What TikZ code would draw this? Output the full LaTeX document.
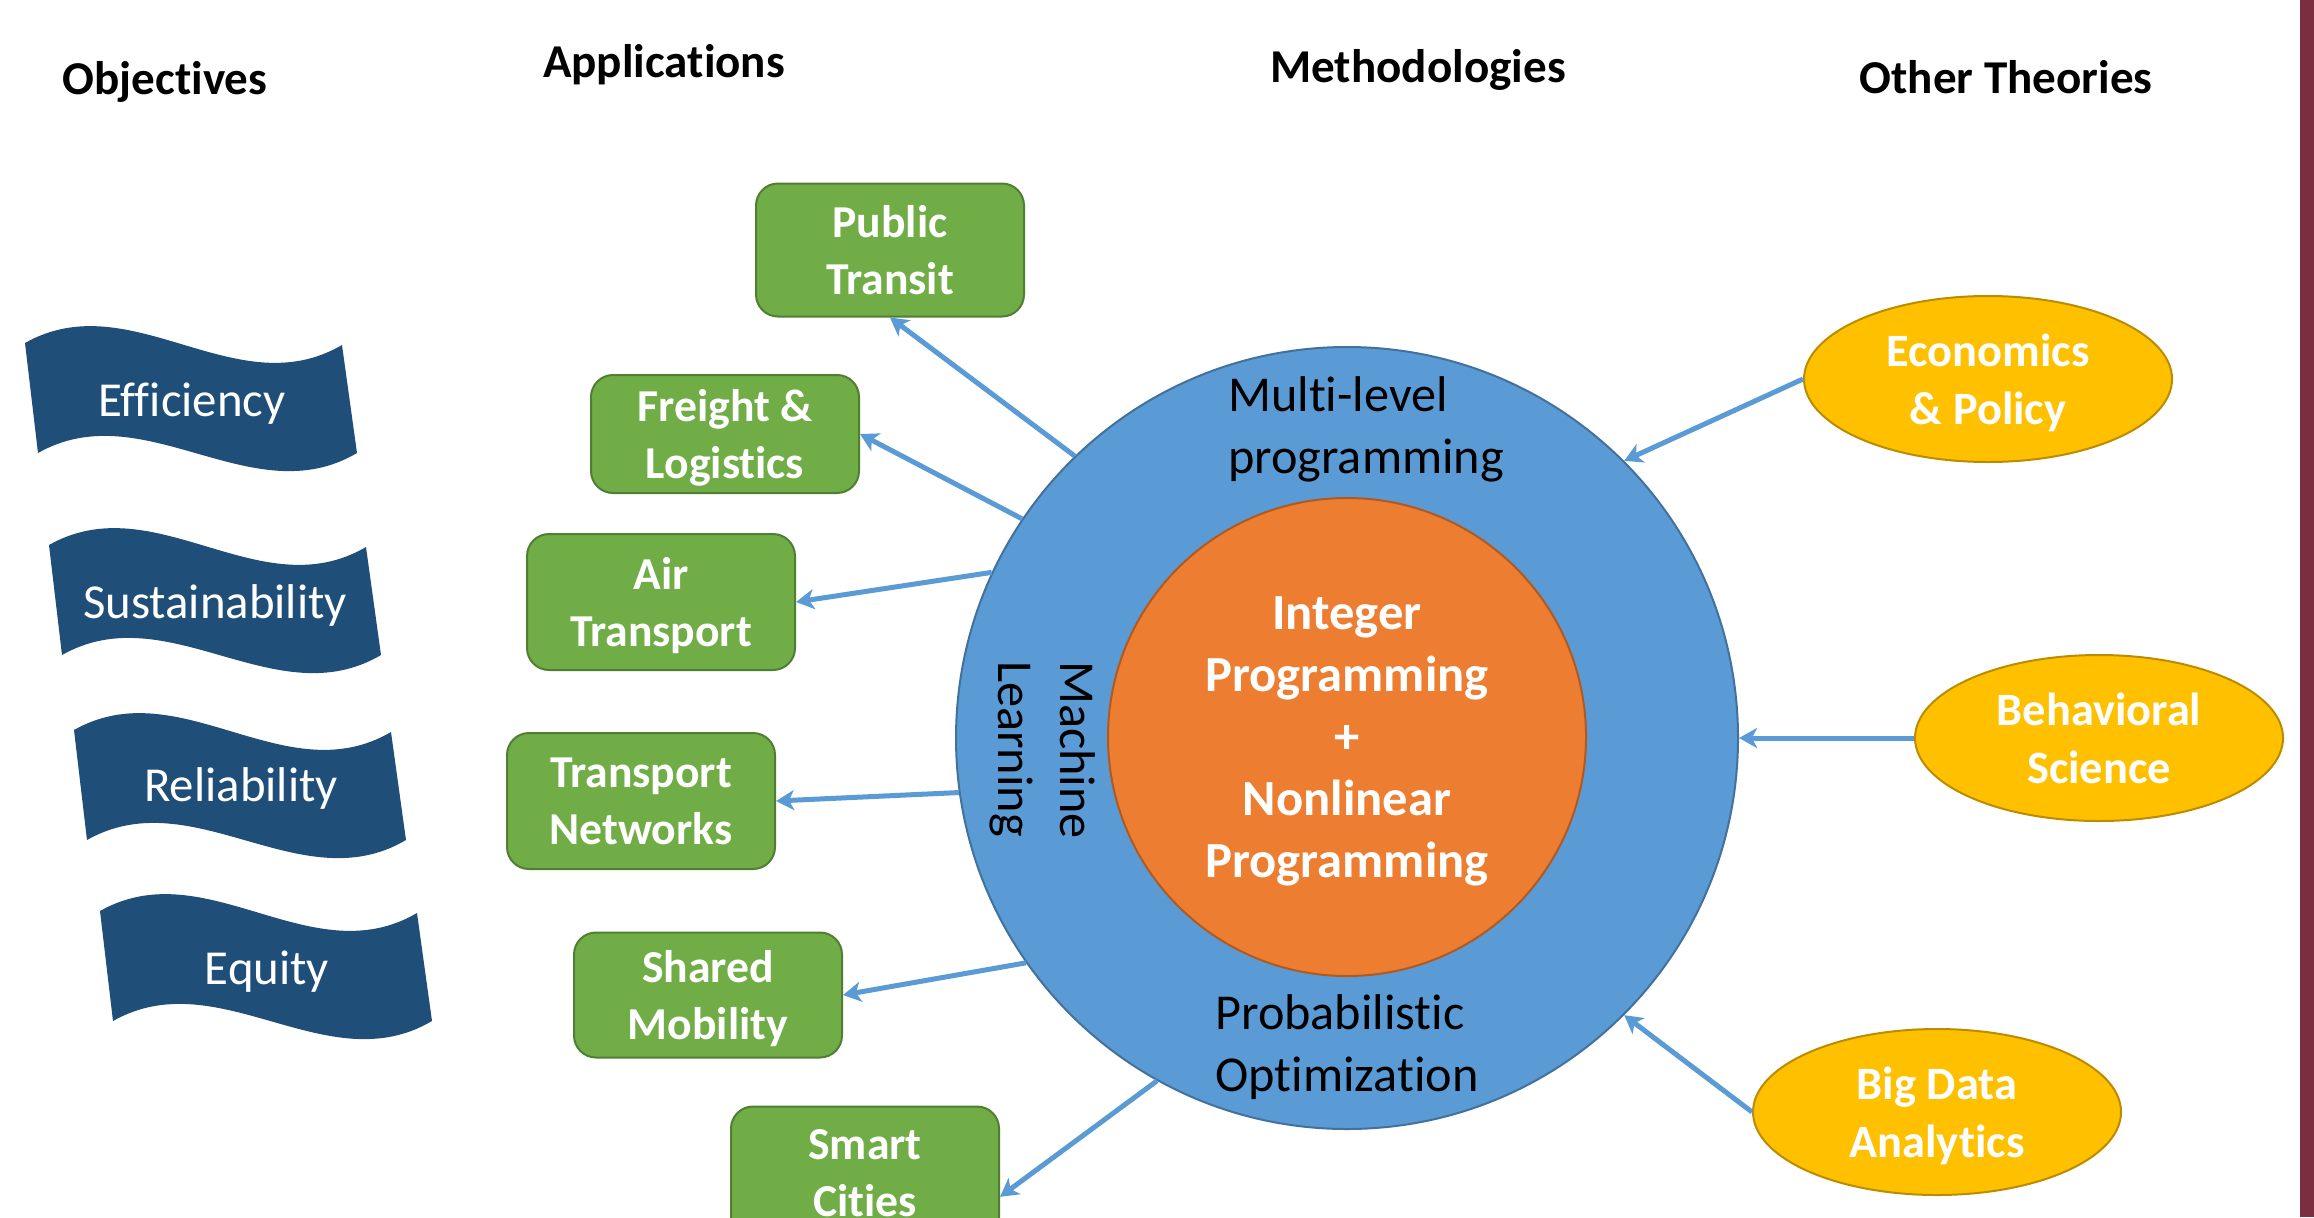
\documentclass[tikz,border=0pt]{standalone}
\usepackage{fontspec}
\setmainfont{Carlito}[Ligatures=NoCommon]
\usepackage{tikz}
\usetikzlibrary{arrows.meta,shapes.geometric}
\definecolor{appgreen}{HTML}{70AD47}
\definecolor{appedge}{HTML}{507E32}
\definecolor{ringblue}{HTML}{5B9BD5}
\definecolor{ringedge}{HTML}{41719C}
\definecolor{coreorange}{HTML}{ED7D31}
\definecolor{coreedge}{HTML}{AE5A21}
\definecolor{theorygold}{HTML}{FFC000}
\definecolor{theoryedge}{HTML}{BC8C00}
\definecolor{goalnavy}{HTML}{1F4E79}
\definecolor{barmaroon}{HTML}{7A2E40}

\begin{document}
\begin{tikzpicture}[x=0.1mm, y=-0.1mm,
  head/.style={font=\fontsize{13.4}{16}\selectfont\bfseries, text depth=0pt},
  app/.style={draw=appedge, line width=0.2mm, fill=appgreen, rounded corners=2.2mm, text=white, align=center, font=\fontsize{13}{16.4}\selectfont\bfseries, text depth=0pt, minimum width=26.8mm, minimum height=13.3mm, inner sep=0pt},
  theory/.style={ellipse, draw=theoryedge, line width=0.2mm, fill=theorygold, text=white, align=center, font=\fontsize{13.2}{16.4}\selectfont\bfseries, text depth=0pt, minimum width=36.8mm, minimum height=16.6mm, inner sep=0pt},
  goal/.style={text=white, font=\fontsize{13.9}{17}\selectfont, text depth=0pt},
  wave/.style={fill=goalnavy},
  meth/.style={align=left, font=\fontsize{14.3}{17.6}\selectfont, inner sep=0pt},
  link/.style={-{Stealth[length=1.8mm, width=2mm, inset=0.5mm]}, draw=ringblue, line width=0.5mm}
]
\useasboundingbox (0,0) rectangle (2314,1217);
\fill[white] (0,0) rectangle (2314,1217);
\fill[barmaroon] (2300,0) rectangle (2314,1217);

\node[head] (hobj)  at (165,78)   {Objectives};
\node[head] (happ)  at (664,61)   {Applications};
\node[head] (hmeth) at (1418,66)  {Methodologies};
\node[head] (hoth)  at (2006,77)  {Other Theories};

\fill[wave, shift={(25,343)}]  (0,0) .. controls (106,-60) and (211,64) .. (317,2) -- (332,110) .. controls (227,172) and (119,50) .. (13,110) -- cycle;
\fill[wave, shift={(49,545)}]  (0,0) .. controls (106,-60) and (211,64) .. (317,2) -- (332,110) .. controls (227,172) and (119,50) .. (13,110) -- cycle;
\fill[wave, shift={(74,730)}]  (0,0) .. controls (106,-60) and (211,64) .. (317,2) -- (332,110) .. controls (227,172) and (119,50) .. (13,110) -- cycle;
\fill[wave, shift={(100,911)}] (0,0) .. controls (106,-60) and (211,64) .. (317,2) -- (332,110) .. controls (227,172) and (119,50) .. (13,110) -- cycle;
\node[goal] (eff) at (192,400) {Efficiency};
\node[goal] (sus) at (215,602) {Sustainability};
\node[goal] (rel) at (241,785) {Reliability};
\node[goal] (equ) at (267,968) {Equity};

\node[circle, draw=ringedge, line width=0.2mm, fill=ringblue, minimum size=78.2mm, inner sep=0pt] (ring) at (1347,738) {};
\node[circle, draw=coreedge, line width=0.2mm, fill=coreorange, minimum size=47.8mm, inner sep=0pt, text=white, align=center, font=\fontsize{14.4}{17.6}\selectfont\bfseries, text depth=0pt] (core) at (1347,737) {Integer\\Programming\\+\\Nonlinear\\Programming};
\node[meth, text depth=0pt] (mlp) at (1366,425) {Multi-level\\programming};
\node[meth, text depth=0pt] (pro) at (1347,1043) {Probabilistic\\Optimization};
\node[meth, rotate=-90] (ml) at (1043,750) {Machine\\Learning};

\node[app] (pt) at (890,250)  {Public\\Transit};
\node[app, minimum height=11.8mm] (fl) at (725,434)  {Freight \&\\Logistics};
\node[app, minimum height=13.6mm] (at) at (661,602)  {Air\\Transport};
\node[app, minimum height=13.6mm] (tn) at (641,801)  {Transport\\Networks};
\node[app, minimum height=12.5mm] (sm) at (708,995)  {Shared\\Mobility};
\node[app] (sc) at (865,1173) {Smart\\Cities};

\node[theory] (ep) at (1988,379)  {Economics\\\& Policy};
\node[theory] (bs) at (2099,738)  {Behavioral\\Science};
\node[theory] (bd) at (1937,1112) {Big Data\\Analytics};

\draw[link] (ring.134.5) -- (pt.south);
\draw[link] (ring.146.4) -- (fl.east);
\draw[link] (ring.155.3) -- (at.east);
\draw[link] (ring.188.4) -- (tn.east);
\draw[link] (ring.215.9) -- (sm.east);
\draw[link] (ring.241.4) -- (sc.-10);
\draw[link] (ep.west) -- (ring.45);
\draw[link] (bs.west) -- (ring.0);
\draw[link] (bd.west) -- (ring.-45);
\end{tikzpicture}
\end{document}
